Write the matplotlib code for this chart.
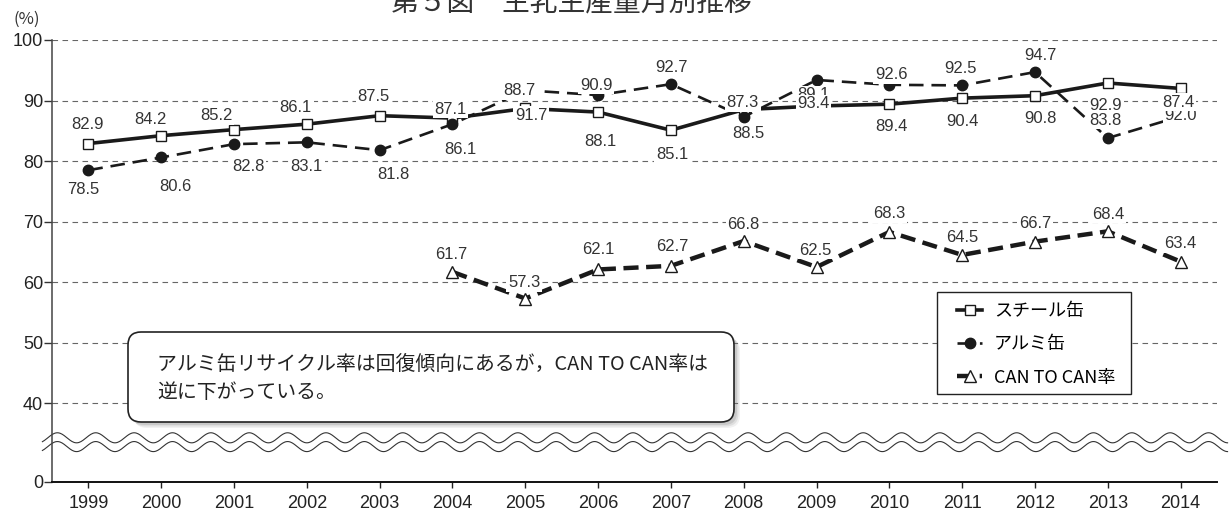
import numpy as np
import matplotlib
matplotlib.use("Agg")
import matplotlib.pyplot as plt
from matplotlib.patches import FancyBboxPatch, Rectangle

# ---- data ----
YEARS = [str(y) for y in range(1999, 2015)]
STEEL = [82.9, 84.2, 85.2, 86.1, 87.5, 87.1, 88.7, 88.1, 85.1, 88.5,
         89.1, 89.4, 90.4, 90.8, 92.9, 92.0]
ALUMI = [78.5, 80.6, 82.8, 83.1, 81.8, 86.1, 91.7, 90.9, 92.7, 87.3,
         93.4, 92.6, 92.5, 94.7, 83.8, 87.4]
C2C_YEARS = YEARS[5:]
C2C = [61.7, 57.3, 62.1, 62.7, 66.8, 62.5, 68.3, 64.5, 66.7, 68.4, 63.4]

SERIES_NAMES = ["スチール缶", "アルミ缶", "CAN TO CAN率"]
YTICK_VALUES = [0, 40, 50, 60, 70, 80, 90, 100]
TITLE = "第５図　生乳生産量月別推移"
NOTE = ["アルミ缶リサイクル率は回復傾向にあるが，CAN TO CAN率は",
        "逆に下がっている。"]

# label offsets in pixels (dx right, dy down), layout only
STEEL_OFF = [(-1, -21), (-11, -18), (-18, -16), (-11, -19), (-6, -21), (-2, -11),
             (-6, -20), (2, 27), (1, 22), (5, 22), (-3, -13), (2, 20), (0, 21),
             (5, 21), (-2, 21), (0, 25)]
ALUMI_OFF = [(-5, 17), (14, 27), (14, 20), (0, 22), (14, 22), (8, 23), (6, 23),
             (-2, -12), (1, -19), (-1, -16), (-3, 22), (2, -12), (-2, -19),
             (5, -19), (-2, -20), (-2, -16)]
C2C_OFF = [(-1, -19), (-1, -18), (0, -22), (1, -21), (0, -19), (-1, -19),
           (0, -20), (0, -19), (0, -20), (0, -19), (0, -20)]

BREAK_POS = 27  # where the "0" tick sits below the axis break

plt.rcParams["font.family"] = ["Liberation Sans", "Noto Sans CJK JP", "DejaVu Sans"]
JP = ["Noto Sans CJK JP", "DejaVu Sans"]
NARROW = ["Liberation Sans Narrow", "Liberation Sans"]

fig = plt.figure(figsize=(12.31, 5.16), dpi=100)
ax = fig.add_axes([52 / 1231, 34 / 516, 1165 / 1231, 442 / 516])

x = np.arange(len(YEARS))
xc = np.arange(len(YEARS) - len(C2C), len(YEARS))

ln_s, = ax.plot(x, STEEL, color="#1a1a1a", lw=2.6, marker="s", ms=7.5,
                mfc="white", mec="#1a1a1a", mew=1.0, zorder=3)
ln_a, = ax.plot(x, ALUMI, color="#1a1a1a", lw=1.9, dashes=(5.5, 3.0), marker="o",
                ms=7.5, mfc="#1a1a1a", mec="#1a1a1a", zorder=3)
ln_c, = ax.plot(xc, C2C, color="#1a1a1a", lw=3.2, dashes=(3.4, 1.7), marker="^",
                ms=8, mfc="white", mec="#1a1a1a", mew=1.0, zorder=3)

lab_kw = dict(textcoords="offset pixels", ha="center", va="center", fontsize=12,
              color="#333333", zorder=4,
              bbox=dict(boxstyle="square,pad=0.1", fc="white", ec="none"))
for xi, v, (dx, dy) in zip(x, STEEL, STEEL_OFF):
    ax.annotate(f"{v:.1f}", (xi, v), xytext=(dx, -dy - 2), **lab_kw)
for xi, v, (dx, dy) in zip(x, ALUMI, ALUMI_OFF):
    ax.annotate(f"{v:.1f}", (xi, v), xytext=(dx, -dy - 2), **lab_kw)
for xi, v, (dx, dy) in zip(xc, C2C, C2C_OFF):
    ax.annotate(f"{v:.1f}", (xi, v), xytext=(dx, -dy - 2), **lab_kw)

# axes styling
ax.set_xlim(-0.5, len(YEARS) - 0.5)
ax.set_ylim(BREAK_POS, 100)
ax.set_xticks(x)
ax.set_xticklabels(YEARS, family=NARROW, fontsize=13, color="#222222")
ytick_pos = [BREAK_POS if v == 0 else v for v in YTICK_VALUES]
ax.set_yticks(ytick_pos)
ax.set_yticklabels([str(v) for v in YTICK_VALUES], family=NARROW, fontsize=13,
                   color="#222222")
ax.tick_params(axis="y", length=6, width=1.0, pad=0.5, color="#333333")
ax.tick_params(axis="x", length=4.5, width=1.0, pad=5, color="#222222")
for s in ["top", "right"]:
    ax.spines[s].set_visible(False)
ax.spines["left"].set_color("#444444")
ax.spines["left"].set_linewidth(1.1)
ax.spines["bottom"].set_color("#111111")
ax.spines["bottom"].set_linewidth(1.4)
for v in YTICK_VALUES[1:]:
    ax.axhline(v, color="#666666", lw=0.8, dashes=(5, 4), zorder=0.5)

# axis-break wave marks
wx = np.linspace(-0.632, 15.645, 1200)
wav = 0.83 * np.cos(2 * np.pi * (wx + 0.426) / 0.527)
for base in (34.3, 32.85):
    ax.plot(wx, base + wav, color="#333333", lw=0.8, clip_on=False, zorder=2)

# legend: frame drawn separately so the inner padding can match
ax.add_patch(Rectangle((0.7597, 0.199), 0.1665, 0.2309, transform=ax.transAxes,
                       fc="white", ec="#222222", lw=1.0, zorder=5))
leg = ax.legend([ln_s, ln_a, ln_c], SERIES_NAMES, loc="upper left",
                bbox_to_anchor=((947 - 52) / 1165, (482 - 292) / 442),
                borderaxespad=0, frameon=False, borderpad=0.55,
                handlelength=1.4, handletextpad=0.65, labelspacing=0.85,
                prop={"family": JP, "size": 13})
leg.set_zorder(6)

# overlay in pixel coordinates for the callout and titles
ov = fig.add_axes([0, 0, 1, 1], zorder=5)
ov.set_xlim(0, 1231)
ov.set_ylim(516, 0)
ov.axis("off")
ov.patch.set_alpha(0)

bx0, by0, bw, bh = 128, 332, 606, 90
for k, a in [(6, 0.10), (4.5, 0.15), (3, 0.2)]:
    ov.add_patch(FancyBboxPatch((bx0 + k, by0 + k), bw, bh,
                                boxstyle="round,pad=0,rounding_size=13",
                                fc="#777777", ec="none", alpha=a))
ov.add_patch(FancyBboxPatch((bx0, by0), bw, bh,
                            boxstyle="round,pad=0,rounding_size=13",
                            fc="white", ec="#222222", lw=1.2))
ov.text(157, 364, NOTE[0], ha="left", va="center", fontsize=14.3, family=JP,
        color="#222222")
ov.text(157, 393, NOTE[1], ha="left", va="center", fontsize=14.3, family=JP,
        color="#222222")

ov.text(571, 3, TITLE, ha="center", va="center", fontsize=20, family=JP,
        color="#333333")
ov.text(27, 19, "(%)", ha="center", va="center", fontsize=12, family=JP,
        color="#333333")

fig.savefig("out.png", dpi=100)
